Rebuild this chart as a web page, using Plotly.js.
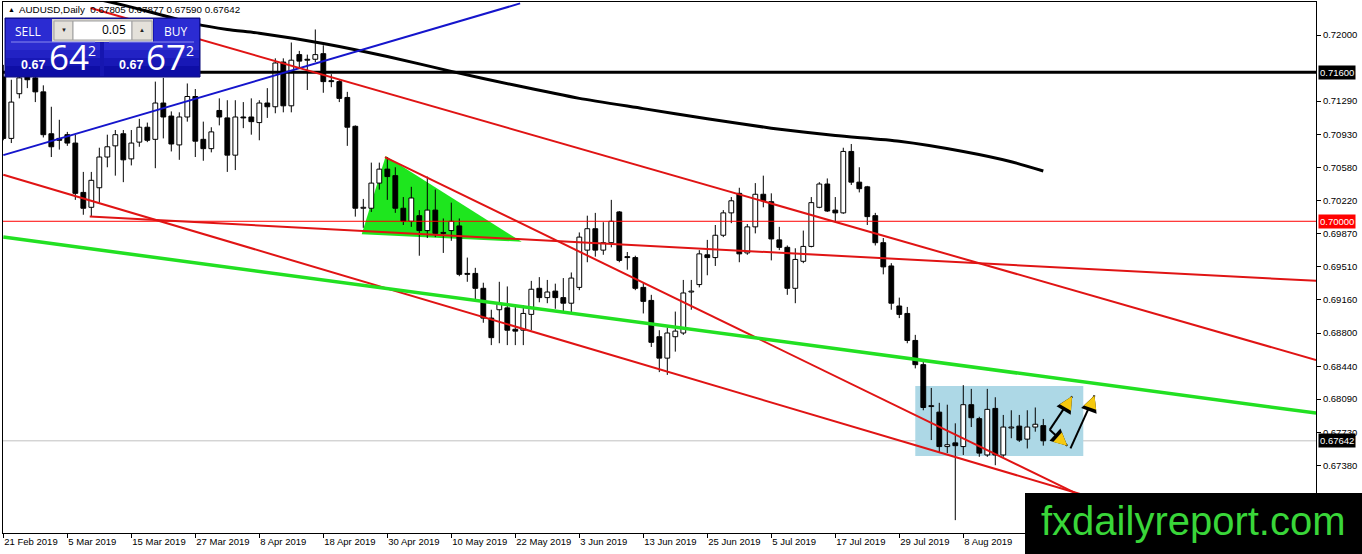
<!DOCTYPE html>
<html><head><meta charset="utf-8">
<script src="https://cdn.plot.ly/plotly-3.0.1.min.js"></script>
<style>html,body{margin:0;padding:0;background:#fff;} #chart{width:1362px;height:554px;}</style>
</head><body><div id="chart"></div>
<script>
// ---- Daily AUDUSD candles (bar index 0 = 21 Feb 2019) ----
const openP = [0.7155,0.7089,0.7137,0.7162,0.7154,0.7139,0.7094,0.7089,0.7093,0.7084,
0.7031,0.7015,0.7036,0.7069,0.7081,0.7094,0.7067,0.7085,0.7101,0.7088,
0.7127,0.7113,0.7082,0.7112,0.7134,0.7088,0.7078,0.7119,0.7111,0.7071,
0.7112,0.7112,0.7106,0.7127,0.7123,0.7171,0.7124,0.7179,0.7174,0.7174,
0.7180,0.7151,0.7150,0.7133,0.7102,0.7014,0.7014,0.7041,0.7056,0.7049,
0.7014,0.7000,0.7006,0.6990,0.7012,0.6988,0.6990,0.6995,0.6944,0.6944,
0.6928,0.6896,0.6905,0.6907,0.6884,0.6883,0.6900,0.6928,0.6918,0.6925,
0.6918,0.6912,0.6929,0.6969,0.6992,0.6969,0.6977,0.7010,0.6962,0.6961,
0.6929,0.6915,0.6876,0.6853,0.6876,0.6880,0.6924,0.6932,0.6964,0.6961,
0.6985,0.7009,0.7030,0.6966,0.6994,0.7029,0.7021,0.6980,0.6972,0.6928,
0.6957,0.6973,0.7015,0.7040,0.7012,0.7009,0.7075,0.7042,0.7037,0.7006,
0.6977,0.6952,0.6909,0.6901,0.6872,0.6846,0.6801,0.6795,0.6758,0.6762,
0.6758,0.6803,0.6788,0.6749,0.6799,0.6749,0.6778,0.6780,0.6766,0.6779,
0.67805];
const highP = [0.7168,0.7152,0.7160,0.7168,0.7160,0.7146,0.7123,0.7109,0.7096,0.7093,
0.7053,0.7053,0.7079,0.7093,0.7098,0.7098,0.7098,0.7110,0.7106,0.7150,
0.7154,0.7118,0.7117,0.7148,0.7142,0.7107,0.7101,0.7132,0.7130,0.7130,
0.7128,0.7132,0.7130,0.7143,0.7175,0.7175,0.7192,0.7183,0.7179,0.7206,
0.7189,0.7158,0.7152,0.7139,0.7103,0.7024,0.7063,0.7063,0.7069,0.7058,
0.7026,0.7037,0.7012,0.7048,0.7034,0.7003,0.7020,0.7003,0.6961,0.6950,
0.6934,0.6905,0.6935,0.6930,0.6910,0.6910,0.6936,0.6940,0.6937,0.6933,
0.6939,0.6945,0.6988,0.7006,0.7009,0.6999,0.7023,0.7011,0.6967,0.6963,
0.6934,0.6921,0.6883,0.6886,0.6903,0.6937,0.6937,0.6969,0.6980,0.6996,
0.7012,0.7026,0.7036,0.6997,0.7041,0.7049,0.7030,0.6994,0.6974,0.6971,
0.6990,0.7026,0.7042,0.7046,0.7026,0.7079,0.7083,0.7058,0.7038,0.7009,
0.6982,0.6955,0.6918,0.6908,0.6878,0.6851,0.6821,0.6805,0.6803,0.6783,
0.6824,0.6820,0.6790,0.6820,0.6811,0.6792,0.6797,0.6792,0.6797,0.6800,
0.67877];
const lowP = [0.7087,0.7084,0.7132,0.7143,0.7128,0.7090,0.7069,0.7077,0.7081,0.7023,
0.7007,0.7005,0.7020,0.7058,0.7049,0.7042,0.7060,0.7080,0.7085,0.7057,
0.7089,0.7075,0.7066,0.7107,0.7069,0.7065,0.7074,0.7103,0.7053,0.7055,
0.7100,0.7093,0.7087,0.7111,0.7116,0.7117,0.7117,0.7165,0.7141,0.7171,
0.7138,0.7144,0.7128,0.7081,0.7005,0.6993,0.7010,0.7034,0.7023,0.7009,
0.6996,0.6994,0.6963,0.6982,0.6983,0.6966,0.6979,0.6941,0.6935,0.6916,
0.6891,0.6867,0.6869,0.6867,0.6867,0.6867,0.6883,0.6913,0.6912,0.6906,
0.6903,0.6901,0.6926,0.6956,0.6962,0.6964,0.6972,0.6956,0.6948,0.6926,
0.6901,0.6865,0.6838,0.6835,0.6860,0.6878,0.6905,0.6929,0.6942,0.6952,
0.6983,0.6998,0.6956,0.6964,0.6987,0.7015,0.6958,0.6969,0.6921,0.6912,
0.6955,0.6972,0.7014,0.7010,0.6999,0.7008,0.7039,0.7031,0.6996,0.6974,
0.6943,0.6905,0.6896,0.6869,0.6842,0.6797,0.6765,0.6752,0.6751,0.6679,
0.6749,0.6779,0.6747,0.6747,0.6738,0.6747,0.6767,0.6763,0.6756,0.6774,
0.67590];
const closeP = [0.7089,0.7128,0.7154,0.7152,0.7139,0.7093,0.7080,0.7087,0.7084,0.7030,
0.7014,0.7044,0.7069,0.7080,0.7093,0.7066,0.7084,0.7101,0.7087,0.7127,
0.7112,0.7083,0.7112,0.7134,0.7086,0.7078,0.7096,0.7112,0.7071,0.7112,
0.7111,0.7107,0.7127,0.7123,0.7170,0.7124,0.7173,0.7172,0.7173,0.7179,
0.7150,0.7150,0.7132,0.7101,0.7014,0.7015,0.7041,0.7056,0.7048,0.7014,
0.7000,0.7025,0.6990,0.7012,0.6987,0.6987,0.7000,0.6943,0.6943,0.6928,
0.6896,0.6875,0.6911,0.6883,0.6882,0.6901,0.6927,0.6918,0.6924,0.6918,
0.6912,0.6939,0.6983,0.6992,0.6969,0.6977,0.7000,0.6958,0.6961,0.6928,
0.6914,0.6870,0.6853,0.6880,0.6882,0.6923,0.6925,0.6965,0.6961,0.6985,
0.7009,0.7022,0.6965,0.6994,0.7029,0.7022,0.6981,0.6972,0.6928,0.6959,
0.6973,0.7020,0.7040,0.7011,0.7009,0.7075,0.7042,0.7035,0.7005,0.6977,
0.6951,0.6912,0.6900,0.6872,0.6846,0.6800,0.6802,0.6758,0.6760,0.6759,
0.6803,0.6789,0.6751,0.6798,0.6749,0.6779,0.6779,0.6765,0.6779,0.6782,
0.67642];

// moving average (black) sampled at bar indices
const maIdx = [10,12,16,20,24,28,32,40,48,56,64,72,80,88,96,104,112,120,126,130];
const maVal = [0.7241,0.7238,0.7230,0.7221,0.7212,0.7206,0.7202,0.7191,0.7177,0.7161,
0.7146,0.7132,0.7121,0.7110,0.7100,0.7092,0.7086,0.7075,0.7064,0.7054];

// x-axis labels (every 8 bars)
const dateLabelIdx = [0,8,16,24,32,40,48,56,64,72,80,88,96,104,112,120];
const dateLabels = ['21 Feb 2019','5 Mar 2019','15 Mar 2019','27 Mar 2019','8 Apr 2019','18 Apr 2019',
'30 Apr 2019','10 May 2019','22 May 2019','3 Jun 2019','13 Jun 2019','25 Jun 2019','5 Jul 2019',
'17 Jul 2019','29 Jul 2019','8 Aug 2019'];

// y-axis labels
const yTickVals = [0.72000,0.71290,0.70930,0.70580,0.70220,0.69870,0.69510,0.69160,0.68800,0.68440,0.68090,0.67730,0.67380,0.67030];
const yTickText = ['0.72000','0.71290','0.70930','0.70580','0.70220','0.69870','0.69510','0.69160','0.68800','0.68440','0.68090','0.67730','0.67380','0.67030'];

// levels
const resistanceLevel = 0.71600;
const roundLevel = 0.70000;
const lastPrice = 0.67642;
const headerText = 'AUDUSD,Daily\u00a0\u00a00.67805 0.67877 0.67590 0.67642';
const sellPrice = ['0.67','64','2'];
const buyPrice = ['0.67','67','2'];
const lotSize = '0.05';

// ---- build traces ----
const N = openP.length;
const xIdx = openP.map((_, i) => i);
const minBody = 0.00006;
const bodyH = openP.map((o, i) => Math.max(Math.abs(closeP[i] - o), minBody));
const bodyBase = openP.map((o, i) => Math.min(o, closeP[i]) - (bodyH[i] - Math.abs(closeP[i] - o)) / 2);
const bodyCol = openP.map((o, i) => closeP[i] >= o ? '#ffffff' : '#000000');
const wx = [], wy = [];
for (let i = 0; i < N; i++) {
  const top = Math.max(openP[i], closeP[i]), bot = Math.min(openP[i], closeP[i]);
  if (highP[i] > top) { wx.push(i, i, null); wy.push(highP[i], top, null); }
  if (lowP[i] < bot) { wx.push(i, i, null); wy.push(bot, lowP[i], null); }
}

const traces = [
  {type:'bar', x:xIdx, y:bodyH, base:bodyBase, width:0.6,
   marker:{color:bodyCol, line:{color:'#000', width:1}}, hoverinfo:'skip'},
  {type:'scatter', mode:'lines', x:wx, y:wy, line:{color:'#000', width:1}, hoverinfo:'skip', connectgaps:false},
  {type:'scatter', mode:'lines', x:maIdx, y:maVal, line:{color:'#000', width:3, shape:'spline', smoothing:0.6}, hoverinfo:'skip'}
];

// pixel -> paper helpers for overlay widgets
const L0 = 3, T0 = 2, PW = 1313, PH = 531;
const X = px => (px - L0) / PW;
const Y = py => (T0 + PH - py) / PH;

const RED = '#e01414';
const shapes = [
  // filled objects (background)
  {type:'path', layer:'below', xref:'x', yref:'y',
   path:'M 47.8 0.7070 L 44.8 0.6986 L 64.8 0.6978 Z', fillcolor:'#1ee61e', line:{width:0}},
  {type:'rect', layer:'below', xref:'x', yref:'y', x0:114.0, x1:135.0, y0:0.6748, y1:0.6823,
   fillcolor:'#add8e6', line:{width:0}},
  {type:'line', layer:'below', xref:'paper', yref:'y', x0:0, x1:1, y0:lastPrice, y1:lastPrice, line:{color:'#c0c0c0', width:1}},
  // horizontal levels
  {type:'line', layer:'above', xref:'paper', yref:'y', x0:0, x1:1, y0:roundLevel, y1:roundLevel, line:{color:'#ff0000', width:1}},
  {type:'line', layer:'above', xref:'paper', yref:'y', x0:0, x1:1, y0:resistanceLevel, y1:resistanceLevel, line:{color:'#000', width:3}},
  // trend lines
  {type:'line', layer:'above', xref:'x', yref:'y', x0:0, y0:0.7071, x1:64.6, y1:0.7234, line:{color:'#1515cc', width:2}},
  {type:'line', layer:'above', xref:'x', yref:'y', x0:10.9, y0:0.7229, x1:164.1, y1:0.6851, line:{color:RED, width:2}},
  {type:'line', layer:'above', xref:'x', yref:'y', x0:0, y0:0.7050, x1:134.6, y1:0.6707, line:{color:RED, width:2}},
  {type:'line', layer:'above', xref:'x', yref:'y', x0:47.7, y0:0.7069, x1:134.3, y1:0.6707, line:{color:RED, width:2}},
  {type:'line', layer:'above', xref:'x', yref:'y', x0:10.8, y0:0.7005, x1:164.1, y1:0.6936, line:{color:RED, width:2}},
  {type:'line', layer:'above', xref:'x', yref:'y', x0:0, y0:0.6983, x1:164.1, y1:0.6794, line:{color:'#22e022', width:3.5}},
  // arrows (black stems)
  {type:'line', layer:'above', xref:'x', yref:'y', x0:130.8, y0:0.6776, x1:133.6, y1:0.6812, line:{color:'#000', width:2}},
  {type:'line', layer:'above', xref:'x', yref:'y', x0:130.8, y0:0.6776, x1:133.0, y1:0.6759, line:{color:'#000', width:2}},
  {type:'line', layer:'above', xref:'x', yref:'y', x0:133.4, y0:0.6756, x1:136.4, y1:0.6813, line:{color:'#000', width:2}},
  // trade panel
  {type:'rect', layer:'above', xref:'paper', yref:'paper', x0:X(5), x1:X(200), y0:Y(77), y1:Y(18), fillcolor:'#1616b0', line:{color:'#0a0a7a', width:1}},
  {type:'rect', layer:'above', xref:'paper', yref:'paper', x0:X(52), x1:X(153), y0:Y(42), y1:Y(19), fillcolor:'#d6d3cc', line:{width:0}},
  {type:'rect', layer:'above', xref:'paper', yref:'paper', x0:X(6), x1:X(52), y0:Y(42), y1:Y(19), fillcolor:'#2b2bd2', line:{width:0}},
  {type:'rect', layer:'above', xref:'paper', yref:'paper', x0:X(154), x1:X(199), y0:Y(42), y1:Y(19), fillcolor:'#2b2bd2', line:{width:0}},
  {type:'rect', layer:'above', xref:'paper', yref:'paper', x0:X(54), x1:X(73), y0:Y(40), y1:Y(21), fillcolor:'#e4e1da', line:{color:'#a0a0a0', width:1}},
  {type:'rect', layer:'above', xref:'paper', yref:'paper', x0:X(73), x1:X(132), y0:Y(40), y1:Y(21), fillcolor:'#ffffff', line:{color:'#a0a0a0', width:1}},
  {type:'rect', layer:'above', xref:'paper', yref:'paper', x0:X(132), x1:X(152), y0:Y(40), y1:Y(21), fillcolor:'#e4e1da', line:{color:'#a0a0a0', width:1}},
];
// price boxes with a stepped gradient
[[6,100],[104,199]].forEach(([a,b]) => {
  const bands = [[42,50,'#2c2cd0'],[50,58,'#2222c4'],[58,66,'#1818b6'],[66,76,'#0e0ea6']];
  bands.forEach(([t,btm,c]) => shapes.push({type:'rect', layer:'above', xref:'paper', yref:'paper',
    x0:X(a), x1:X(b), y0:Y(btm), y1:Y(t), fillcolor:c, line:{width:0}}));
  shapes.push({type:'line', layer:'above', xref:'paper', yref:'paper', x0:X(a+5), x1:X(b-5), y0:Y(42), y1:Y(42), line:{color:'#8a8aee', width:1}});
});
// watermark box
shapes.push({type:'rect', layer:'above', xref:'paper', yref:'paper', x0:X(1025), x1:X(1364), y0:Y(556), y1:Y(493), fillcolor:'#000', line:{width:0}});

const wf = 'Open Sans, Liberation Sans, sans-serif';
const af = 'Liberation Sans, Arial, sans-serif';
const annotations = [
  // header
  {xref:'paper', yref:'paper', x:X(6), y:Y(9), xanchor:'left', yanchor:'middle', showarrow:false, text:'\u25B2', font:{family:af, size:7, color:'#000'}},
  {xref:'paper', yref:'paper', x:X(17), y:Y(9), xanchor:'left', yanchor:'middle', showarrow:false, text:headerText, font:{family:af, size:9.8, color:'#000'}},
  // price labels on the right
  {xref:'paper', yref:'y', x:X(1318), y:resistanceLevel, xanchor:'left', yanchor:'middle', showarrow:false, text:resistanceLevel.toFixed(5), bgcolor:'#000', borderpad:1, font:{family:af, size:9.5, color:'#fff'}},
  {xref:'paper', yref:'y', x:X(1318), y:roundLevel, xanchor:'left', yanchor:'middle', showarrow:false, text:roundLevel.toFixed(5), bgcolor:'#ff0000', borderpad:1, font:{family:af, size:9.5, color:'#fff'}},
  {xref:'paper', yref:'y', x:X(1318), y:lastPrice, xanchor:'left', yanchor:'middle', showarrow:false, text:lastPrice.toFixed(5), bgcolor:'#000', borderpad:1, font:{family:af, size:9.5, color:'#fff'}},
];
// arrow heads: black outline below, yellow fill on top
const heads = [[133.6,0.6812,-6,10],[133.0,0.6759,-9,-8],[136.4,0.6813,-4,11]];
heads.forEach(([hx,hy,ax,ay]) => annotations.push({xref:'x', yref:'y', x:hx, y:hy, ax:ax, ay:ay, text:'', showarrow:true,
  arrowhead:2, arrowsize:3.3, arrowwidth:1, arrowcolor:'#000', standoff:0}));
heads.forEach(([hx,hy,ax,ay]) => annotations.push({xref:'x', yref:'y', x:hx, y:hy, ax:ax, ay:ay, text:'', showarrow:true,
  arrowhead:2, arrowsize:2.6, arrowwidth:1, arrowcolor:'#f5c90f', standoff:0}));
// trade panel texts
annotations.push(
  {xref:'paper', yref:'paper', x:X(28), y:Y(31), xanchor:'center', yanchor:'middle', showarrow:false, text:'SELL', font:{family:wf, size:12, color:'#fff'}},
  {xref:'paper', yref:'paper', x:X(176), y:Y(31), xanchor:'center', yanchor:'middle', showarrow:false, text:'BUY', font:{family:wf, size:12, color:'#fff'}},
  {xref:'paper', yref:'paper', x:X(63.5), y:Y(30), xanchor:'center', yanchor:'middle', showarrow:false, text:'\u25BC', font:{family:af, size:6, color:'#222'}},
  {xref:'paper', yref:'paper', x:X(142), y:Y(30), xanchor:'center', yanchor:'middle', showarrow:false, text:'\u25B2', font:{family:af, size:6, color:'#222'}},
  {xref:'paper', yref:'paper', x:X(128), y:Y(30), xanchor:'right', yanchor:'middle', showarrow:false, text:lotSize, font:{family:wf, size:12, color:'#000'}}
);
[[sellPrice, 19, 47, 86], [buyPrice, 117, 144, 184]].forEach(([p, a, b, c]) => {
  annotations.push({xref:'paper', yref:'paper', x:X(a), y:Y(65), xanchor:'left', yanchor:'middle', showarrow:false, text:'<b>'+p[0]+'</b>', font:{family:af, size:12.5, color:'#fff'}});
  annotations.push({xref:'paper', yref:'paper', x:X(b), y:Y(57), xanchor:'left', yanchor:'middle', showarrow:false, text:p[1], font:{family:wf, size:35, color:'#fff'}});
  annotations.push({xref:'paper', yref:'paper', x:X(c), y:Y(51), xanchor:'left', yanchor:'middle', showarrow:false, text:p[2], font:{family:wf, size:14, color:'#fff'}});
});
annotations.push({xref:'paper', yref:'paper', x:X(1039), y:Y(521), xanchor:'left', yanchor:'middle', showarrow:false, text:'fxdailyreport.com', font:{family:af, size:40, color:'#39d639'}});

const layout = {
  width:1362, height:554,
  margin:{l:L0, r:1362-L0-PW, t:T0, b:554-T0-PH, pad:0},
  paper_bgcolor:'#fff', plot_bgcolor:'#fff',
  showlegend:false, bargap:0,
  xaxis:{range:[-0.04, 164.09], showgrid:false, zeroline:false, showline:true, mirror:true, linecolor:'#000', linewidth:1,
    tickmode:'array', tickvals:dateLabelIdx, ticktext:dateLabels, ticks:'outside', ticklen:4, tickcolor:'#000',
    ticklabelposition:'outside right', tickfont:{family:af, size:9.5, color:'#000'}, fixedrange:true},
  yaxis:{range:[0.66652, 0.72355], side:'right', showgrid:false, zeroline:false, showline:true, mirror:true, linecolor:'#000', linewidth:1,
    tickmode:'array', tickvals:yTickVals, ticktext:yTickText, ticks:'outside', ticklen:4, tickcolor:'#000',
    tickfont:{family:af, size:9.5, color:'#000'}, fixedrange:true},
  shapes:shapes, annotations:annotations
};
Plotly.newPlot('chart', traces, layout, {displayModeBar:false, staticPlot:true});
</script></body></html>
